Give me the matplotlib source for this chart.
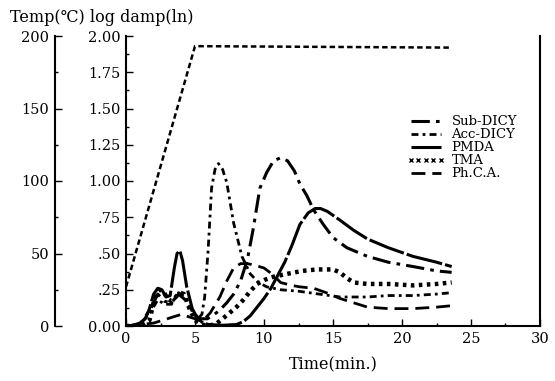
import matplotlib
matplotlib.use("Agg")
import matplotlib.pyplot as plt
from matplotlib.ticker import MultipleLocator, FixedLocator, FixedFormatter
from matplotlib.lines import Line2D

plt.rcParams['font.family'] = ['DejaVu Serif', 'DejaVu Sans']

# --- DATA ---
# temperature programme (degC)
temp_t = [0, 5.0, 23.5]
temp_v = [27, 193, 192]

# PMDA: near-solid long dashes
pmda_t = [0, 0.5, 1.0, 1.4, 1.7, 2.0, 2.3, 2.6, 2.9, 3.2, 3.5, 3.7, 3.9, 4.1, 4.4, 4.8,
          5.2, 5.6, 6.0, 7.0, 8.0, 8.5, 9.0, 9.5, 10.0, 10.5, 11.0, 11.5, 12.0, 12.6,
          13.2, 13.7, 14.1, 14.6, 15.5, 16.5, 17.5, 19.0, 20.8, 22.5, 23.6]
pmda_v = [0, 0.005, 0.02, 0.05, 0.12, 0.22, 0.26, 0.25, 0.20, 0.21, 0.40, 0.50, 0.52, 0.45,
          0.27, 0.12, 0.05, 0.02, 0.01, 0.005, 0.01, 0.03, 0.07, 0.13, 0.19, 0.26, 0.35,
          0.44, 0.55, 0.70, 0.78, 0.81, 0.81, 0.79, 0.73, 0.66, 0.60, 0.54, 0.48, 0.44, 0.41]

# Sub-DICY: dash-dot
sub_t = [0, 1.0, 1.8, 2.3, 2.8, 3.3, 3.8, 4.3, 4.8, 5.3, 5.9, 6.4, 6.8, 7.3, 7.8, 8.3, 8.8,
         9.2, 9.7, 10.2, 10.7, 11.2, 11.7, 12.2, 12.6, 13.1, 13.6, 14.3, 15.0, 16.0, 17.5,
         19.0, 20.8, 22.5, 23.6]
sub_v = [0, 0.01, 0.12, 0.22, 0.17, 0.16, 0.22, 0.18, 0.10, 0.05, 0.05, 0.08, 0.11, 0.16,
         0.22, 0.31, 0.46, 0.66, 0.95, 1.06, 1.14, 1.16, 1.14, 1.07, 0.98, 0.90, 0.80, 0.70,
         0.61, 0.54, 0.48, 0.44, 0.41, 0.38, 0.37]

# Acc-DICY: short dash-dot
acc_t = [0, 1.0, 1.8, 2.3, 2.8, 3.3, 3.8, 4.3, 4.8, 5.2, 5.5, 5.7, 5.95, 6.2, 6.45, 6.7,
         7.0, 7.3, 7.8, 8.4, 9.0, 9.6, 10.2, 11.2, 12.5, 14.0, 15.5, 17.5, 19.0, 20.8,
         22.5, 23.6]
acc_v = [0, 0.01, 0.10, 0.18, 0.15, 0.15, 0.23, 0.20, 0.10, 0.05, 0.08, 0.20, 0.52, 0.95,
         1.08, 1.12, 1.08, 0.99, 0.71, 0.48, 0.36, 0.30, 0.27, 0.25, 0.24, 0.22, 0.20,
         0.20, 0.21, 0.21, 0.22, 0.23]

# TMA: crosses
tma_t = [0, 1.0, 1.7, 2.1, 2.4, 2.7, 3.0, 3.3, 3.6, 3.9, 4.2, 4.6, 5.0, 5.5, 6.0, 6.6,
         7.0, 7.5, 8.0, 8.5, 9.0, 9.5, 10.1, 10.7, 11.7, 12.8, 13.8, 15.0, 15.5, 16.0,
         16.5, 17.5, 19.0, 20.8, 22.5, 23.6]
tma_v = [0, 0.0, 0.04, 0.20, 0.25, 0.24, 0.19, 0.17, 0.20, 0.23, 0.22, 0.12, 0.04, 0.01,
         0.0, 0.02, 0.05, 0.09, 0.13, 0.18, 0.24, 0.29, 0.32, 0.34, 0.36, 0.38, 0.39, 0.39,
         0.37, 0.33, 0.30, 0.29, 0.29, 0.28, 0.29, 0.30]

# Ph.C.A.: long dashes
phca_t = [0, 2.0, 3.0, 4.0, 5.0, 5.6, 6.1, 6.8, 7.3, 7.8, 8.3, 8.8, 9.3, 10.0, 10.7, 11.2,
          12.0, 12.6, 13.6, 14.5, 15.5, 16.5, 17.5, 19.0, 20.8, 22.5, 23.6]
phca_v = [0, 0.02, 0.05, 0.08, 0.05, 0.04, 0.09, 0.20, 0.31, 0.40, 0.43, 0.43, 0.42, 0.40,
          0.35, 0.30, 0.28, 0.27, 0.26, 0.23, 0.19, 0.16, 0.13, 0.12, 0.12, 0.13, 0.14]

y_ticks = [0, 0.25, 0.5, 0.75, 1.0, 1.25, 1.5, 1.75, 2.0]
y_labels = ['0.00', '.25', '.50', '.75', '1.00', '1.25', '1.50', '1.75', '2.00']
temp_ticks = [0, 50, 100, 150, 200]

# --- PLOTTING ---
fig = plt.figure(figsize=(5.55, 3.81), dpi=100)
ax = fig.add_axes([126/555, 55/381, 414/555, 290/381])

ax.plot(sub_t, sub_v, color='black', lw=2.2, ls=(0, (6, 2, 1.2, 2)), label='Sub-DICY')
ax.plot(acc_t, acc_v, color='black', lw=2.0, ls=(0, (2.5, 1.5, 1, 1.5)), label='Acc-DICY')
ax.plot(pmda_t, pmda_v, color='black', lw=2.2, ls=(0, (12, 1.0)), label='PMDA')
ax.plot(tma_t, tma_v, color='black', lw=3.2, ls=(0, (0.8, 1.0)))
ax.plot(phca_t, phca_v, color='black', lw=2.0, ls=(0, (5, 2.5)), label='Ph.C.A.')

ax.set_xlim(0, 30)
ax.set_ylim(0, 2.0)
ax.spines['top'].set_visible(False)
for s in ['left', 'bottom', 'right']:
    ax.spines[s].set_linewidth(1.5)
ax.xaxis.set_major_locator(MultipleLocator(5))
ax.xaxis.set_minor_locator(MultipleLocator(2.5))
ax.yaxis.set_major_locator(FixedLocator(y_ticks))
ax.yaxis.set_major_formatter(FixedFormatter(y_labels))
ax.yaxis.set_minor_locator(MultipleLocator(0.125))
ax.tick_params(which='both', direction='in', labelsize=10.5, width=1, right=False, top=False)
ax.tick_params(which='major', length=5, pad=4)
ax.tick_params(which='minor', length=2.5)
ax.set_xlabel('Time(min.)', fontsize=11.5, labelpad=8)

# temperature axis, drawn on its own spine to the left
ax2 = ax.twinx()
ax2.plot(temp_t, temp_v, color='black', lw=1.8, ls=(0, (2.2, 1.3)))
ax2.set_ylim(0, 200)
ax2.yaxis.set_ticks_position('left')
ax2.yaxis.set_label_position('left')
ax2.spines['left'].set_position(('axes', -71/414))
ax2.spines['left'].set_linewidth(1.5)
for s in ['top', 'bottom', 'right']:
    ax2.spines[s].set_visible(False)
ax2.yaxis.set_major_locator(FixedLocator(temp_ticks))
ax2.yaxis.set_minor_locator(MultipleLocator(25))
ax2.tick_params(which='both', direction='in', labelsize=10.5, width=1)
ax2.tick_params(which='major', length=5, pad=4)
ax2.tick_params(which='minor', length=2.5)

fig.text(10/555, 1 - 18/381, 'Temp(\u2103) log damp(ln)', fontsize=11.5, va='center', ha='left')

# legend
handles, labels = ax.get_legend_handles_labels()
tma_handle = Line2D([], [], ls='none', marker='x', ms=2.5, mew=1, color='black')
handles.insert(3, tma_handle)
labels.insert(3, 'TMA')
ax.legend(handles, labels, loc='upper left', bbox_to_anchor=(0.665, 0.745),
          frameon=False, fontsize=9.5, handlelength=2.9, handletextpad=0.5,
          labelspacing=0.0, numpoints=5, borderaxespad=0)

fig.savefig('out.png', dpi=100)
